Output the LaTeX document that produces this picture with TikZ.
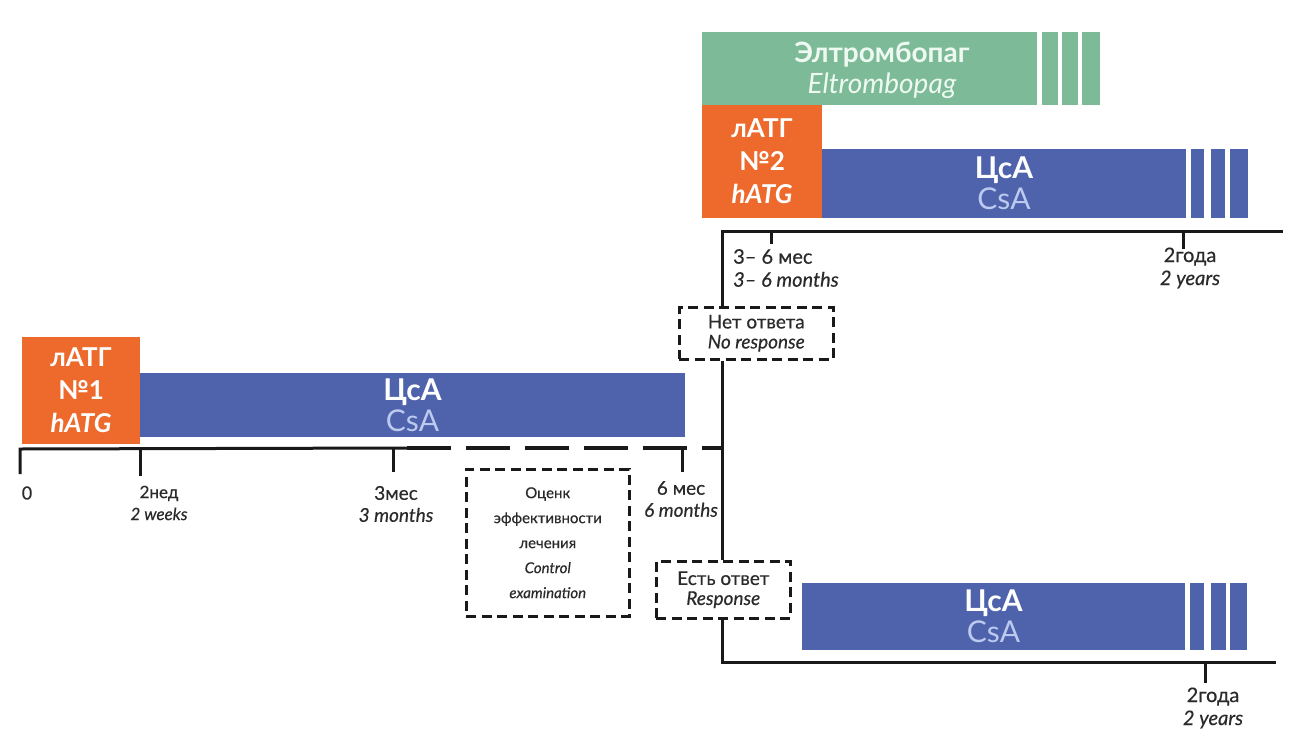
\documentclass[tikz,border=0pt]{standalone}
\usepackage{fontspec}
\setmainfont{Lato}
\newfontfamily\medfont[FakeBold=0.4]{Lato}
\definecolor{orng}{HTML}{EE6A2C}
\definecolor{blu}{HTML}{4F62AC}
\definecolor{grn}{HTML}{7DBA98}
\definecolor{lblu}{HTML}{BBCAEE}
\definecolor{txt}{HTML}{2A2A2A}
\definecolor{mint}{HTML}{EEFAF1}
\tikzset{
  bar/.style={draw=none, inner sep=0pt, outer sep=0pt, anchor=north west, align=center},
  atgbox/.style={bar, fill=orng, text=white, font=\bfseries\fontsize{26}{33}\selectfont},
  csabar/.style={bar, fill=blu, text=white, font=\fontsize{30}{31}\selectfont},
  eltbar/.style={bar, fill=grn},
  tline/.style={line width=3pt, line join=miter, draw=black!90},
  tickline/.style={line width=3pt, draw=black!90},
  thickdash/.style={line width=4.5pt, draw=black!90, dash pattern=on 44pt off 15pt},
  lbl/.style={text=txt, font=\medfont\fontsize{17}{22}\selectfont, align=center, inner sep=0pt},
  dbox/.style={draw=black!90, dash pattern=on 10pt off 5.5pt, line width=2.5pt, align=center,
    text=txt, inner sep=0pt, anchor=north west, font=\medfont\fontsize{19}{20}\selectfont},
}
\begin{document}
\begin{tikzpicture}[x=1pt,y=-1pt]
\useasboundingbox[fill=white] (0,0) rectangle (1293,731);

% ---------- first course ----------
\node[atgbox, minimum width=118pt, minimum height=107pt] (atg1) at (22,337) {лАТГ\\№1\\\textit{hATG}};
\node[csabar, minimum width=545pt, minimum height=64pt] (csa1) at (140,373) {\textbf{ЦсА}\\\textcolor{lblu}{CsA}};

\coordinate (t0) at (20,449);
\coordinate (t0d) at (20,474);
\coordinate (t2w) at (140,449);
\coordinate (t2wd) at (140,476);
\coordinate (t3m) at (393,449);
\coordinate (t3md) at (393,472);
\coordinate (d0) at (407,448);
\coordinate (t6m) at (682,448);
\coordinate (t6md) at (682,472);

\draw[tline] (t0d) -- (t0) -- (d0);
\draw[tickline] (t2w) -- (t2wd);
\draw[tickline] (t3m) -- (t3md);
\draw[tickline] (t6m) -- (t6md);

\node[lbl, font=\medfont\fontsize{18}{22}\selectfont] (l0) at (27,493) {0};
\node[lbl] (l2w) at (159,503) {2нед\\\textit{2 weeks}};
\node[lbl, font=\medfont\fontsize{19}{22}\selectfont] (l3m) at (396,504) {3мес\\\textit{3 months}};
\node[lbl, font=\medfont\fontsize{19}{22}\selectfont] (l6m) at (681,499) {6 мес\\\textit{6 months}};

\node[dbox, minimum width=163pt, minimum height=147pt, font=\medfont\fontsize{15}{25}\selectfont] (ctrl) at (465,468)
  {Оценк\\эффективности\\лечения\\\textit{Control}\\\textit{examination}};

% ---------- decision ----------
\node[dbox, minimum width=154pt, minimum height=52pt] (nores) at (678,306) {Нет ответа\\\textit{No response}};
\node[dbox, minimum width=134pt, minimum height=57pt] (res) at (655,560) {Есть ответ\\\textit{Response}};

\coordinate (topL) at (722,231);
\coordinate (topR) at (1283,231);
\coordinate (botL) at (722,662);
\coordinate (botR) at (1276,662);
\coordinate (junc) at (722,448);

\draw[thickdash] (d0) -- (junc);
\draw[tline] (nores.north -| topL) -- (topL) -- (topR);
\draw[tline] (nores.south -| topL) -- (res.north -| topL);
\draw[tline] (res.south -| topL) -- (botL) -- (botR);

% ---------- no response branch ----------
\node[eltbar, minimum width=335pt, minimum height=73pt] (elt) at (702,32) {};
\fill[grn] (1042,32) rectangle (1058,105);
\fill[grn] (1062,32) rectangle (1078,105);
\fill[grn] (1082,32) rectangle (1100,105);
\node[align=center, text=mint, inner sep=0pt, font=\fontsize{28}{31}\selectfont] (eltt) at (882,70)
  {\textbf{Элтромбопаг}\\\textit{Eltrombopag}};

\node[atgbox, minimum width=120pt, minimum height=113pt] (atg2) at (702,105) {лАТГ\\№2\\\textit{hATG}};
\node[csabar, minimum width=364pt, minimum height=69pt] (csa2) at (822,149) {\textbf{ЦсА}\\\textcolor{lblu}{CsA}};
\fill[blu] (1191,149) rectangle (1204,218);
\fill[blu] (1211,149) rectangle (1225,218);
\fill[blu] (1230,149) rectangle (1248,218);

\coordinate (t36) at (771,231);
\coordinate (t36d) at (771,244);
\coordinate (t2y) at (1183,231);
\coordinate (t2yd) at (1183,249);
\draw[tickline] (t36) -- (t36d);
\draw[tickline] (t2y) -- (t2yd);
\node[lbl, anchor=west, align=left, font=\medfont\fontsize{20}{23}\selectfont] (l36) at (733,268) {3– 6 мес\\\textit{3– 6 months}};
\node[lbl, font=\medfont\fontsize{20}{23}\selectfont] (l2y) at (1190,268) {2года\\\textit{2 years}};

% ---------- response branch ----------
\node[csabar, minimum width=383pt, minimum height=67pt] (csa3) at (802,583) {\textbf{ЦсА}\\\textcolor{lblu}{CsA}};
\fill[blu] (1190,583) rectangle (1204,650);
\fill[blu] (1211,583) rectangle (1226,650);
\fill[blu] (1230,583) rectangle (1247,650);

\coordinate (b2y) at (1205,662);
\coordinate (b2yd) at (1205,683);
\draw[tickline] (b2y) -- (b2yd);
\node[lbl, font=\medfont\fontsize{20}{23}\selectfont] (lb2y) at (1213,708) {2года\\\textit{2 years}};
\end{tikzpicture}
\end{document}
